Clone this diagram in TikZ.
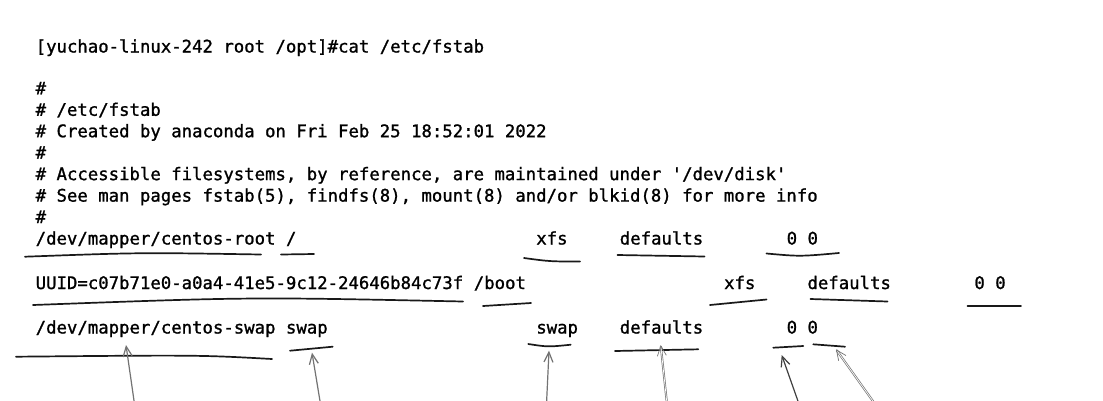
\documentclass[tikz,border=0pt]{standalone}
\usepackage{fontspec}
\newfontfamily\termfont{DejaVu Sans Mono}[WordSpace={1,0,0},PunctuationSpace=WordSpace,FakeBold=1.2]
\usetikzlibrary{arrows.meta}

\tikzset{
  every node/.style={anchor=base west, inner sep=0pt, text=black,
    font=\termfont\fontsize{17.32}{21.45}\selectfont\frenchspacing},
  uline/.style={line width=1.7pt, line cap=round, black!90},
  ptr/.style={-{Straight Barb[length=10pt,width=9pt]}, line width=1.2pt, black!55},
  ptrd/.style={ptr, double=white, double distance=0.7pt, line width=0.7pt}
}

\begin{document}
\begin{tikzpicture}[x=1pt,y=-1pt]
                \useasboundingbox[fill=white] (0,0) rectangle (1103,400);
                % header
                \node (prompt)   at (35.5,52.5)  {[yuchao-linux-242 root /opt]\#cat /etc/fstab};
                \node (hash1)    at (35.5,94.3)  {\#};
                \node (path)     at (35.5,115.8) {\# /etc/fstab};
                \node (created)  at (35.5,137.2) {\# Created by anaconda on Fri Feb 25 18:52:01 2022};
                \node (hash2)    at (35.5,158.7) {\#};
                \node (access)   at (35.5,180.1) {\# Accessible filesystems, by reference, are maintained under '/dev/disk'};
                \node (seeman)   at (35.5,201.6) {\# See man pages fstab(5), findfs(8), mount(8) and/or blkid(8) for more info};
                \node (hash3)    at (35.5,223)   {\#};
                % entries
                \node (rootdev)  at (35.5,244.5)  {/dev/mapper/centos-root};
                \node (rootmnt)  at (285.8,244.5) {/};
                \node (rootfs)   at (536.1,244.5) {xfs};
                \node (rootopt)  at (619.6,244.5) {defaults};
                \node (rootnum)  at (786.5,244.5) {0 0};
                \node (bootuuid) at (35.5,289)    {UUID=c07b71e0-a0a4-41e5-9c12-24646b84c73f};
                \node (bootmnt)  at (473.6,289)   {/boot};
                \node (bootfs)   at (723.9,289)   {xfs};
                \node (bootopt)  at (807.3,289)   {defaults};
                \node (bootnum)  at (974.2,289)   {0 0};
                \node (swapdev)  at (35.5,333.5)  {/dev/mapper/centos-swap};
                \node (swapmnt)  at (285.8,333.5) {swap};
                \node (swapfs)   at (536.1,333.5) {swap};
                \node (swapopt)  at (619.6,333.5) {defaults};
                \node (swapdump) at (786.5,333.5) {0};
                \node (swappass) at (807.3,333.5) {0};
                % underlines
                \draw[uline] (25,256.7) .. controls (140,252.5) .. (261,254.5);
                \draw[uline] (281,254.5) -- (314,254);
                \draw[uline] (524,258) .. controls (550,261.5) .. (580,261.5);
                \draw[uline] (617.5,255) -- (704.5,256.5);
                \draw[uline] (766.5,253.5) .. controls (800,256.5) .. (839,253);
                \draw[uline] (33,305) .. controls (250,297) .. (463,301.5);
                \draw[uline] (483,306) -- (531,303);
                \draw[uline] (710,305) -- (766.5,299.5);
                \draw[uline] (810.5,299) -- (887.5,301.5);
                \draw[uline] (967.5,306) -- (1021,306);
                \draw[uline] (16,356.7) .. controls (200,355) .. (272,359);
                \draw[uline] (290,350.7) -- (332.7,346.7);
                \draw[uline] (528.3,344) .. controls (548,347) .. (570.7,344.7);
                \draw[uline] (615,351) -- (698.3,349.3);
                \draw[uline] (773.3,347.7) -- (803.3,346);
                \draw[uline] (813.3,344.3) -- (845,346.7);
                % arrows
                \coordinate (tip1) at (126,345);
                \coordinate (tip2) at (312,352.7);
                \coordinate (tip3) at (549,350.7);
                \coordinate (tip4) at (660.7,345);
                \coordinate (tip5) at (781.7,355);
                \coordinate (tip6) at (836,349.3);
                \coordinate (foot1) at (134.5,404);
                \coordinate (foot2) at (320.5,404);
                \coordinate (foot3) at (546.5,404);
                \coordinate (foot4) at (667,404);
                \coordinate (foot5) at (799,404);
                \coordinate (foot6) at (875,404);
                \draw[ptr]  (foot1) -- (tip1);
                \draw[ptr]  (foot2) -- (tip2);
                \draw[ptr]  (foot3) -- (tip3);
                \draw[ptrd] (foot4) -- (tip4);
                \draw[ptr, black!75] (foot5) -- (tip5);
                \draw[ptrd] (foot6) -- (tip6);
\end{tikzpicture}
\end{document}
